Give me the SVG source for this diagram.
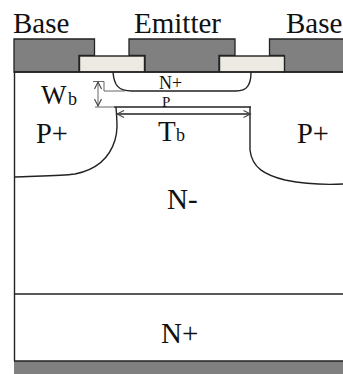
<svg xmlns="http://www.w3.org/2000/svg" width="343" height="374" viewBox="0 0 343 374">
<defs>
<style>
text{font-family:"Liberation Serif","Times New Roman",serif;fill:#111}
.l{font-size:29px}
.m{font-size:28.500px}
.b{font-size:18px}
.s{font-size:18px}
.metal{fill:#808080;stroke:#222;stroke-width:1.3}
.ox{fill:#eceae2;stroke:#222;stroke-width:1.4}
.line{fill:none;stroke:#222;stroke-width:1.4}
.thin{fill:none;stroke:#666;stroke-width:1}
</style>
<marker id="ah" markerWidth="9" markerHeight="9" refX="8" refY="4" orient="auto-start-reverse" markerUnits="userSpaceOnUse"><path d="M1 0.5L8 4L1 7.500" fill="none" stroke="#444" stroke-width="1.100"/></marker>
</defs>
<rect width="343" height="374" fill="#fff"/>
<g id="substrate">
<path class="line" d="M14.500 72V361"/>
</g>
<g id="base-left"><path class="metal" d="M14 72V39H94.500V55.500H79V72Z"/><text class="l" x="13" y="33">Base</text></g>
<g id="emitter"><path class="metal" d="M129 55.500V39H235V55.500H219V72H145V55.500Z"/><text class="l" x="134" y="33">Emitter</text></g>
<g id="base-right"><path class="metal" d="M344 72V39H269.500V55.500H284V72Z"/><text class="l" x="286" y="33">Base</text></g>
<g id="oxide-left"><rect class="ox" x="79.500" y="56" width="65" height="16"/></g>
<g id="oxide-right"><rect class="ox" x="219.500" y="56" width="65" height="16"/></g>
<g id="top-surface"><path class="line" d="M14 72H343"/></g>
<g id="collector"><rect x="14" y="361" width="329" height="13" fill="#808080"/><path class="line" d="M14 361H343"/></g>
<g id="n-plus-layer"><path class="line" d="M14 294H343"/><text class="l" x="161" y="343">N+</text></g>
<g id="connectors">
<path class="line" d="M113 72C114 85 118 91 132 91H236C247 91 251 85 251 72"/>
<path class="line" d="M114 107H251" stroke-width="1.800"/>
<path class="line" d="M116 107C117 122 118 130 115 140C109 160 95 170 75 174C60 176 35 176 14 177"/>
<path class="line" d="M250 107V150C252 168 265 175 285 180C305 184 325 185 343 184"/>
<path class="thin" d="M93 81.500H104V91H125"/>
<path class="thin" d="M95 107H115"/>
<path class="thin" d="M98 82V106" marker-start="url(#ah)" marker-end="url(#ah)"/>
<path class="line" d="M117 114H250.500" marker-start="url(#ah)" marker-end="url(#ah)"/>
</g>
<g id="labels">
<text x="41" y="104" font-size="27">W</text>
<text class="b" x="68" y="105">b</text>
<text class="s" x="159" y="89">N+</text>
<text x="162" y="107" font-size="15">P</text>
<text class="l" x="158" y="141">T</text>
<text class="b" x="176" y="141">b</text>
<text class="m" x="36" y="143">P+</text>
<text class="m" x="297" y="143">P+</text>
<text class="l" x="167" y="209">N-</text>
</g>
</svg>
